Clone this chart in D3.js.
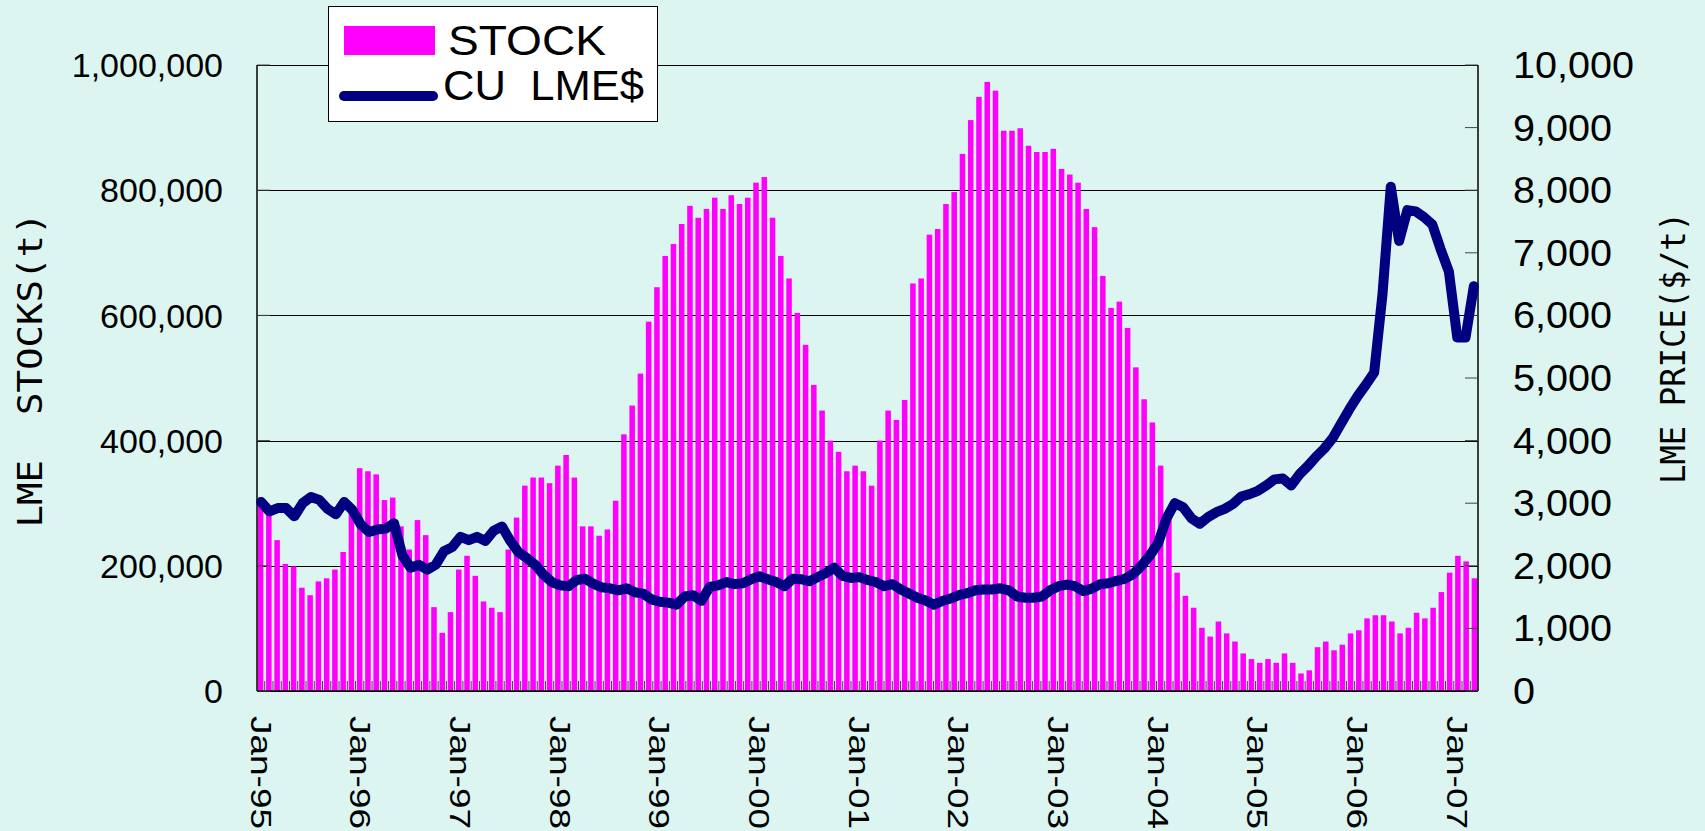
<!DOCTYPE html>
<html><head><meta charset="utf-8">
<script src="https://cdn.jsdelivr.net/npm/d3@7/dist/d3.min.js"></script>
<style>body{margin:0;background:#DCF5F0;} svg{display:block}</style>
</head><body>
<svg id="c" width="1705" height="831"></svg>
<script>
// LME copper stocks (t), monthly Jan-95 .. Apr-07
const stock = [
309000,284000,241000,203000,199000,165000,153000,175000,180000,194000,222000,290000,
356000,351000,346000,305000,309000,263000,226000,273000,249000,134000,93000,126000,
194000,216000,184000,143000,133000,126000,226000,277000,328000,341000,341000,332000,
360000,377000,341000,263000,263000,248000,258000,304000,410000,456000,507000,590000,
645000,695000,714000,746000,775000,756000,770000,788000,770000,792000,778000,788000,
812000,821000,756000,695000,659000,604000,553000,489000,448000,400000,382000,351000,
360000,351000,328000,400000,448000,433000,465000,651000,659000,729000,738000,778000,
797000,858000,912000,949000,973000,959000,895000,895000,899000,871000,861000,861000,
866000,834000,825000,812000,770000,741000,663000,612000,622000,580000,517000,466000,
429000,360000,280000,189000,152000,133000,101000,87000,111000,92000,79000,60000,
51000,45000,51000,45000,60000,45000,28000,33000,70000,79000,65000,74000,
92000,97000,116000,121000,121000,111000,92000,101000,125000,116000,133000,158000,
189000,216000,207000,180000
];
// CU LME $ price, monthly Jan-95 .. Mar-07
const price = [
3020,2869,2922,2922,2790,3001,3099,3053,2909,2823,3020,2889,
2659,2541,2580,2594,2679,2167,1970,2016,1937,2016,2232,2298,
2462,2410,2462,2397,2561,2626,2397,2213,2121,2016,1858,1740,
1687,1674,1773,1793,1714,1655,1641,1609,1641,1576,1556,1464,
1425,1412,1379,1510,1530,1440,1661,1687,1740,1707,1720,1786,
1832,1786,1740,1674,1793,1786,1753,1819,1884,1970,1838,1806,
1819,1773,1740,1674,1707,1622,1556,1490,1445,1379,1438,1477,
1530,1563,1609,1622,1622,1641,1609,1510,1490,1490,1510,1609,
1674,1700,1674,1596,1635,1707,1720,1760,1793,1871,2003,2167,
2364,2758,3001,2935,2758,2672,2777,2856,2909,2988,3106,3145,
3198,3283,3381,3395,3283,3460,3592,3743,3874,4038,4268,4498,
4708,4892,5089,6336,8056,7190,7682,7662,7570,7452,7058,6697,
5647,5647,6467
];
const tickLabels = ["Jan-95","Jan-96","Jan-97","Jan-98","Jan-99","Jan-00","Jan-01","Jan-02","Jan-03","Jan-04","Jan-05","Jan-06","Jan-07"];
const tickIndex = [0,12,24,36,48,60,72,84,96,108,120,132,144];
const leftTicks = [0,200000,400000,600000,800000,1000000];
const rightTicks = [0,1000,2000,3000,4000,5000,6000,7000,8000,9000,10000];

const W=1705,H=831,L=257,R=1478,T=65,B=691;
const BG="#DCF5F0", SANS="'Liberation Sans', Arial, sans-serif", MONO="'DejaVu Sans Mono', monospace";
const svg=d3.select("#c");
svg.append("rect").attr("width",W).attr("height",H).attr("fill",BG);

const xBar=d3.scaleBand().domain(d3.range(stock.length)).range([L,R]).paddingInner(0.33).paddingOuter(0.1);
const xLine=d3.scaleBand().domain(d3.range(price.length)).range([L,R]);
const yL=d3.scaleLinear().domain([0,1000000]).range([B,T]);
const yR=d3.scaleLinear().domain([0,10000]).range([B,T]);

// gridlines
svg.append("g").selectAll("line").data(leftTicks).join("line")
  .attr("x1",L).attr("x2",R).attr("y1",d=>Math.round(yL(d))+0.5).attr("y2",d=>Math.round(yL(d))+0.5)
  .attr("stroke","#000").attr("stroke-width",1);

// bars
svg.append("g").selectAll("rect").data(stock).join("rect")
  .attr("x",(d,i)=>xBar(i)).attr("width",xBar.bandwidth())
  .attr("y",d=>yL(d)).attr("height",d=>B-yL(d)).attr("fill","#FF00FF");

// axis lines
const ax=svg.append("g").attr("stroke","#000").attr("stroke-width",1.5);
ax.append("line").attr("x1",L).attr("x2",L).attr("y1",T).attr("y2",B);
ax.append("line").attr("x1",R).attr("x2",R).attr("y1",T).attr("y2",B);
ax.append("line").attr("x1",L).attr("x2",R).attr("y1",B).attr("y2",B);

// inside ticks
const tk=svg.append("g").attr("stroke","#444").attr("stroke-width",1);
tk.selectAll(".lt").data(leftTicks).join("line").attr("x1",L).attr("x2",L+13).attr("y1",d=>yL(d)).attr("y2",d=>yL(d));
tk.selectAll(".rt").data(rightTicks).join("line").attr("x1",R-13).attr("x2",R).attr("y1",d=>yR(d)).attr("y2",d=>yR(d));
const gapHalf=xBar.step()*xBar.paddingInner()/2;
tk.selectAll(".bt").data(d3.range(1,stock.length)).join("line")
  .attr("x1",i=>xBar(i)-gapHalf).attr("x2",i=>xBar(i)-gapHalf).attr("y1",B-10).attr("y2",B);

// price line
const line=d3.line().x((d,i)=>xLine(i)+xLine.bandwidth()/2).y(d=>yR(d));
svg.append("path").datum(price).attr("d",line).attr("fill","none")
  .attr("stroke","#000080").attr("stroke-width",10).attr("stroke-linejoin","round").attr("stroke-linecap","round");

function stretch(sel,f){sel.each(function(){const w=this.getComputedTextLength();d3.select(this).attr("textLength",w*f).attr("lengthAdjust","spacingAndGlyphs");});}

// left axis labels
svg.append("g").selectAll("text").data(leftTicks).join("text")
  .attr("x",223).attr("y",d=>yL(d)).attr("dy","0.36em").attr("text-anchor","end")
  .attr("font-family",SANS).attr("font-size",34).attr("fill","#000").text(d3.format(","));

// right axis labels
const rl=svg.append("g").selectAll("text").data(rightTicks).join("text")
  .attr("x",1513).attr("y",d=>yR(d)).attr("dy","0.36em").attr("text-anchor","start")
  .attr("font-family",SANS).attr("font-size",36).attr("fill","#000").text(d3.format(","));
stretch(rl,1.1);

// x labels
svg.append("g").selectAll("text").data(tickIndex).join("text")
  .attr("transform",(d)=>`translate(${xLine(d)+xLine.bandwidth()/2},716) rotate(90)`)
  .attr("dy","0.36em").attr("text-anchor","start")
  .attr("font-family",SANS).attr("font-size",29).attr("fill","#000")
  .attr("textLength",113).attr("lengthAdjust","spacingAndGlyphs")
  .text((d,i)=>tickLabels[i]);

// axis titles
svg.append("text").attr("transform","translate(30,370) rotate(-90)").attr("text-anchor","middle").attr("dy","0.36em")
  .attr("font-family",MONO).attr("font-size",34).attr("fill","#000").style("white-space","pre")
  .attr("textLength",315).attr("lengthAdjust","spacingAndGlyphs").text("LME  STOCKS(t)");
svg.append("text").attr("transform","translate(1673,348) rotate(-90)").attr("text-anchor","middle").attr("dy","0.36em")
  .attr("font-family",MONO).attr("font-size",34).attr("fill","#000").style("white-space","pre")
  .attr("textLength",272).attr("lengthAdjust","spacingAndGlyphs").text("LME PRICE($/t)");

// legend
const lg=svg.append("g");
lg.append("rect").attr("x",328.5).attr("y",6.5).attr("width",329).attr("height",115).attr("fill","#fff").attr("stroke","#000").attr("stroke-width",1);
lg.append("rect").attr("x",344).attr("y",26).attr("width",91).attr("height",29).attr("fill","#FF00FF");
lg.append("line").attr("x1",344).attr("x2",433).attr("y1",96).attr("y2",96).attr("stroke","#000080").attr("stroke-width",10).attr("stroke-linecap","round");
lg.append("text").attr("x",448).attr("y",55).attr("font-family",SANS).attr("font-size",42).attr("fill","#000")
  .attr("textLength",158).attr("lengthAdjust","spacingAndGlyphs").text("STOCK");
lg.append("text").attr("x",443).attr("y",100).attr("font-family",SANS).attr("font-size",42).attr("fill","#000").style("white-space","pre")
  .attr("textLength",201).attr("lengthAdjust","spacingAndGlyphs").text("CU  LME$");
</script>
</body></html>
